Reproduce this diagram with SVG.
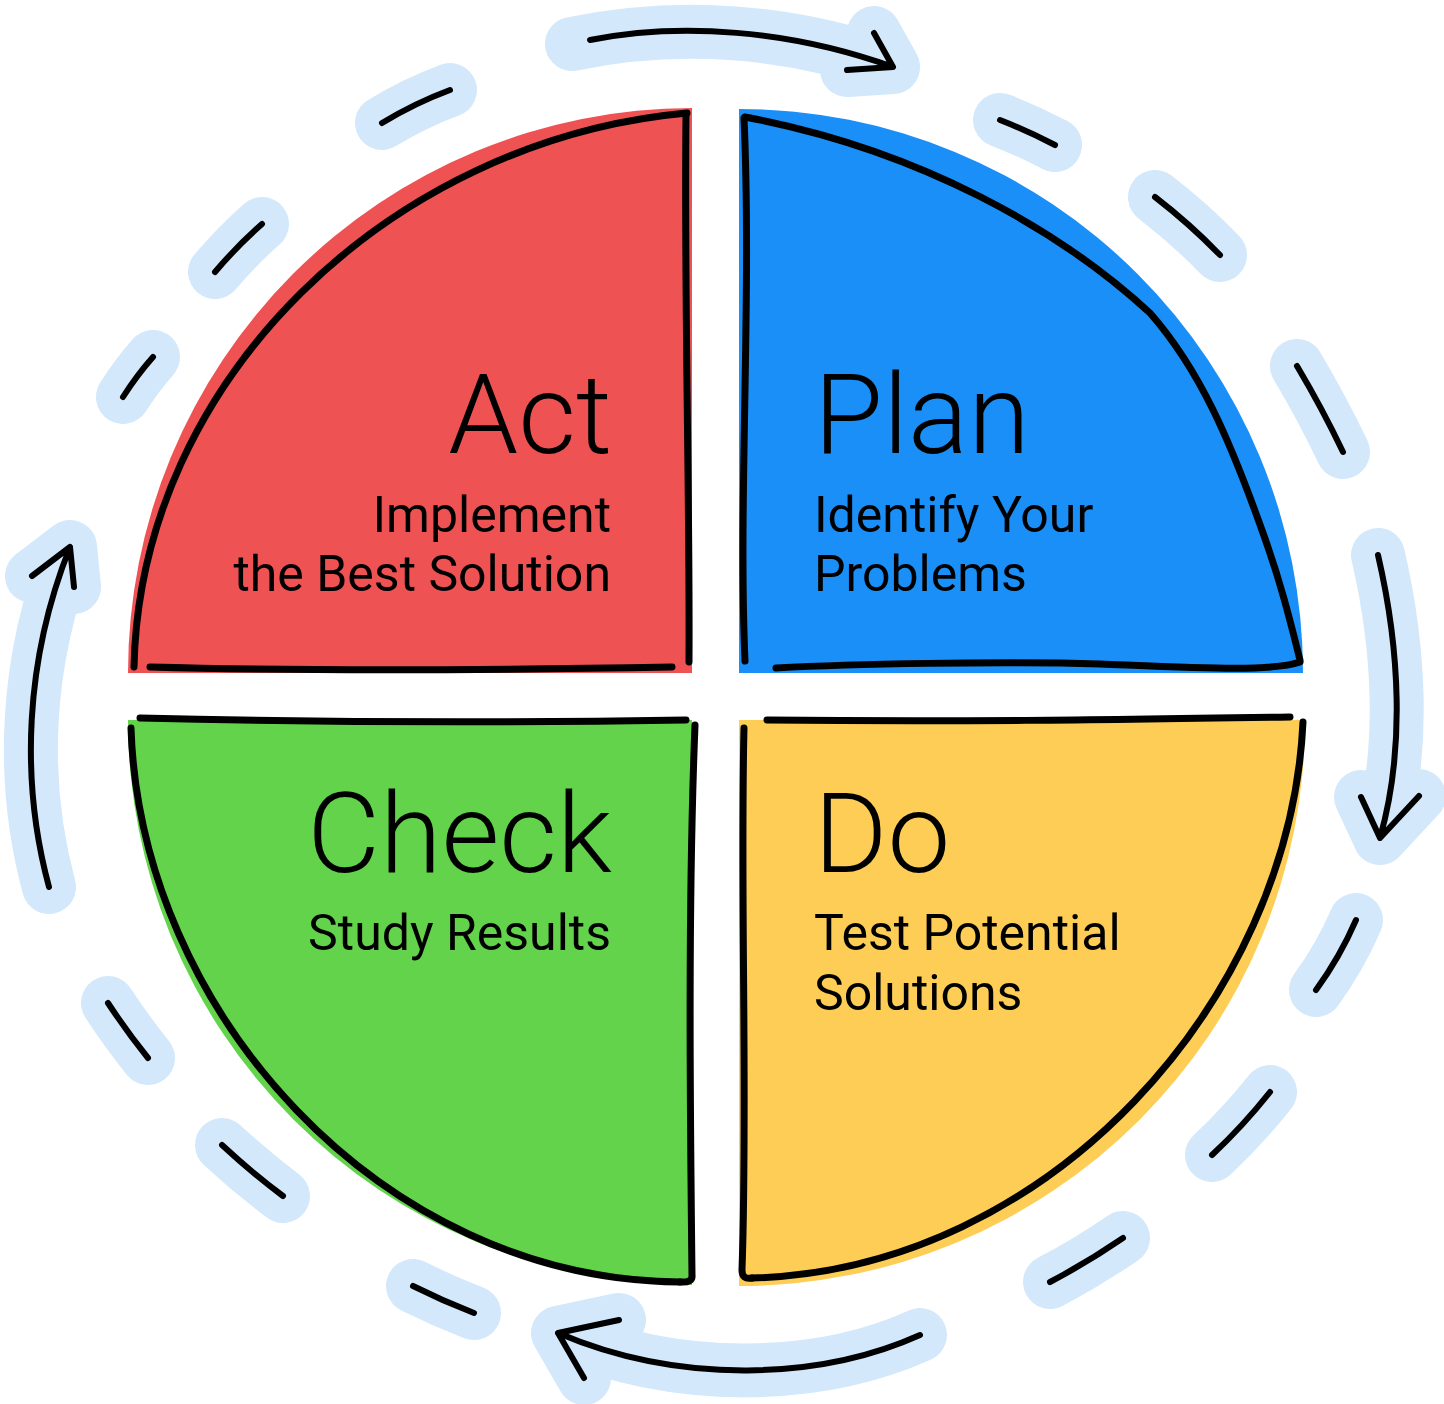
<svg xmlns="http://www.w3.org/2000/svg" width="1444" height="1404" viewBox="0 0 1444 1404">
<style>
.halo{fill:none;stroke:#D3E8FB;stroke-width:54;stroke-linecap:round;stroke-linejoin:round}
.ink{fill:none;stroke:#000;stroke-width:6;stroke-linecap:round;stroke-linejoin:round}
.edge{fill:none;stroke:#000;stroke-width:7;stroke-linecap:round;stroke-linejoin:round}
.title{font-family:Roboto,"Liberation Sans",sans-serif;font-weight:300;font-size:112px;fill:#000}
.sub{font-family:Roboto,"Liberation Sans",sans-serif;font-weight:400;font-size:50px;fill:#000}
</style>
<rect width="1444" height="1404" fill="#fff"/>
<g id="connectors">
  <g class="halo">
    <path d="M572,44 C680,22 790,30 893,67 M874,33 L893,67 L847,70"/>
    <path d="M1378,555 C1400,650 1405,750 1380,838 M1361,797 L1380,838 L1419,796"/>
    <path d="M920,1335 C820,1380 680,1385 558,1333 M619,1320 L558,1333 L584,1378"/>
    <path d="M49,887 C20,780 25,660 70,547 M32,576 L70,547 L74,587"/>
    <path d="M382,123 Q415,103 450,90"/>
    <path d="M215,272 Q237,246 262,224"/>
    <path d="M123,397 Q137,375 153,357"/>
    <path d="M108,1003 Q127,1032 148,1058"/>
    <path d="M222,1145 Q251,1172 283,1196"/>
    <path d="M413,1286 Q443,1301 474,1313"/>
    <path d="M1050,1282 Q1088,1262 1123,1238"/>
    <path d="M1212,1155 Q1243,1126 1270,1092"/>
    <path d="M1316,990 Q1340,957 1356,920"/>
    <path d="M1000,120 Q1028,131 1055,145"/>
    <path d="M1155,197 Q1190,224 1220,255"/>
    <path d="M1297,366 Q1322,408 1343,452"/>
  </g>
  <g class="ink">
    <path d="M590,40 C680,22 790,30 893,67 M874,33 L893,67 L847,70"/>
    <path d="M1378,555 C1400,650 1405,750 1380,838 M1361,797 L1380,838 L1419,796"/>
    <path d="M920,1335 C820,1380 680,1385 558,1333 M619,1320 L558,1333 L584,1378"/>
    <path d="M49,887 C20,780 25,660 70,547 M32,576 L70,547 L74,587"/>
    <path d="M382,123 Q415,103 450,90"/>
    <path d="M215,272 Q237,246 262,224"/>
    <path d="M123,397 Q137,375 153,357"/>
    <path d="M108,1003 Q127,1032 148,1058"/>
    <path d="M222,1145 Q251,1172 283,1196"/>
    <path d="M413,1286 Q443,1301 474,1313"/>
    <path d="M1050,1282 Q1088,1262 1123,1238"/>
    <path d="M1212,1155 Q1243,1126 1270,1092"/>
    <path d="M1316,990 Q1340,957 1356,920"/>
    <path d="M1000,120 Q1028,131 1055,145"/>
    <path d="M1155,197 Q1190,224 1220,255"/>
    <path d="M1297,366 Q1322,408 1343,452"/>
  </g>
</g>
<g id="act">
  <path d="M692,673 L128,673 A565,565 0 0 1 692,108 Z" fill="#EE5253"/>
  <path class="edge" d="M687,113 C390,140 140,380 134,667"/>
  <path class="edge" d="M686,115 C684,300 690,500 689,662"/>
  <path class="edge" d="M150,667 C300,671 500,670 672,667"/>
  <text class="title" x="612" y="453" text-anchor="end">Act</text>
  <text class="sub" x="611" y="532" text-anchor="end">Implement</text>
  <text class="sub" x="611" y="591" text-anchor="end">the Best Solution</text>
</g>
<g id="plan">
  <path d="M739,673 L739,109 A564,564 0 0 1 1303,673 Z" fill="#1A8FF7"/>
  <path class="edge" d="M744,118 C752,300 738,500 745,661"/>
  <path class="edge" d="M745,117 C920,150 1060,230 1150,313 C1200,370 1230,440 1263,533 C1280,580 1290,620 1300,660"/>
  <path class="edge" d="M1300,662 C1270,672 1200,668 1100,664 C1000,661 850,664 776,668"/>
  <text class="title" x="814" y="453">Plan</text>
  <text class="sub" x="814" y="532">Identify Your</text>
  <text class="sub" x="814" y="591">Problems</text>
</g>
<g id="check">
  <path d="M692,720 L128,720 A565,565 0 0 0 692,1285 Z" fill="#62D34A"/>
  <path class="edge" d="M140,718 C300,722 500,723 686,720"/>
  <path class="edge" d="M131,728 C140,1010 380,1280 680,1282"/>
  <path class="edge" d="M695,725 C688,900 690,1100 692,1275 Q693,1283 680,1282"/>
  <text class="title" x="612" y="872" text-anchor="end">Check</text>
  <text class="sub" x="611" y="950" text-anchor="end">Study Results</text>
</g>
<g id="do">
  <path d="M739,720 L1305,720 A566,566 0 0 1 739,1286 Z" fill="#FDCD55"/>
  <path class="edge" d="M767,720 C950,722 1100,720 1290,717"/>
  <path class="edge" d="M1303,722 C1290,1000 1050,1270 752,1278"/>
  <path class="edge" d="M744,728 C740,900 748,1100 742,1270 Q742,1280 752,1278"/>
  <text class="title" x="814" y="872">Do</text>
  <text class="sub" x="814" y="950">Test Potential</text>
  <text class="sub" x="814" y="1010">Solutions</text>
</g>
</svg>
